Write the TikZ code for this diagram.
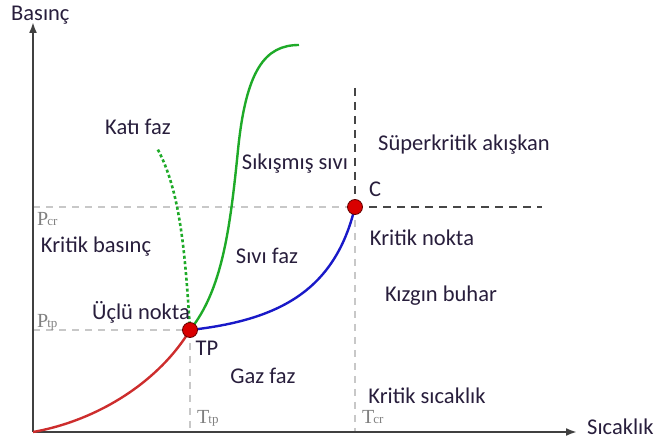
\documentclass[tikz,border=0pt]{standalone}
\usepackage{fontspec}
\setmainfont{Carlito}
\newfontfamily\serifsub{Liberation Serif}
\newcommand\mysubfont{\fontsize{13}{14}\selectfont}
\usetikzlibrary{arrows.meta}
\definecolor{txt}{RGB}{40,30,60}
\definecolor{gcurve}{RGB}{30,170,40}
\definecolor{bcurve}{RGB}{25,25,200}
\definecolor{rcurve}{RGB}{205,45,45}
\definecolor{guide}{RGB}{200,200,200}
\definecolor{darkdash}{RGB}{70,70,70}
\begin{document}
\begin{tikzpicture}[x=1pt,y=-1pt,
  lbl/.style={font=\fontsize{22.5}{24}\selectfont,text=txt,inner sep=0pt},
  sub/.style={font=\serifsub\fontsize{20}{22}\selectfont,text=gray,inner sep=0pt},
  guideline/.style={guide,line width=1.2pt,dash pattern=on 7pt off 6pt},
  darkline/.style={darkdash,line width=1.8pt,dash pattern=on 8pt off 6pt},
  pt/.style={circle,fill=red!85!black,draw=red!40!black,line width=0.8pt,minimum size=15pt,inner sep=0pt},
  axis/.style={line width=2pt,black!75,-{Latex[length=11pt,width=8pt]}}]
\useasboundingbox (0,0) rectangle (665,446);
\coordinate (O) at (33,432);
\coordinate (ytop) at (33,22);
\coordinate (xend) at (577,432);
\coordinate (TPc) at (190,330);
\coordinate (Cc) at (355,207);
\coordinate (Pcr) at (33,207);
\coordinate (Ptp) at (33,330);
\coordinate (Ttp) at (190,432);
\coordinate (Tcr) at (355,432);
\coordinate (Ctop) at (355,88);
\coordinate (Cright) at (542,207);
\coordinate (Gend) at (299,45);
\coordinate (Dend) at (157,148);
% guides
\draw[guideline] (Pcr) -- (Cc);
\draw[guideline] (Ptp) -- (TPc);
\draw[guideline] (TPc) -- (Ttp);
\draw[guideline] (Cc) -- (Tcr);
\draw[darkline] (Ctop) -- (Cc);
\draw[darkline] (Cc) -- (Cright);
% axes
\draw[axis] (O) -- (ytop);
\draw[axis] (O) -- (xend);
% curves
\draw[rcurve,line width=2.4pt] (O) .. controls (100,420) and (160,380) .. (TPc);
\draw[bcurve,line width=2.4pt] (TPc) .. controls (280,320) and (335,290) .. (Cc);
\draw[gcurve,line width=2.4pt] (TPc) .. controls (222,290) and (230,230) .. (238,150)
  .. controls (246,70) and (265,45) .. (Gend);
\draw[gcurve,line width=2.6pt,dash pattern=on 3pt off 2.5pt] (TPc) .. controls (185,250) and (180,190) .. (Dend);
\node[pt] (TP) at (TPc) {};
\node[pt] (C) at (Cc) {};
% labels
\node[lbl,anchor=west] (bas) at (11,15) {Basınç};
\node[lbl,anchor=west] (sic) at (587,427) {Sıcaklık};
\node[lbl] (kati) at (138,127) {Katı faz};
\node[lbl] (sik) at (295,164) {Sıkışmış sıvı};
\node[lbl] (sup) at (464,145) {Süperkritik akışkan};
\node[lbl] (Cl) at (375,189) {C};
\node[sub,anchor=west] (pcr) at (37,219) {P\kern-1pt{\mysubfont cr}};
\node[lbl] (kb) at (96,247) {Kritik basınç};
\node[lbl] (sivi) at (267,256) {Sıvı faz};
\node[lbl] (kn) at (422,238) {Kritik nokta};
\node[lbl] (kz) at (441,296) {Kızgın buhar};
\node[lbl] (ucl) at (141,312) {Üçlü nokta};
\node[sub,anchor=west] (ptp) at (37,322) {P\kern-1pt{\mysubfont tp}};
\node[lbl] (tpl) at (207,348) {TP};
\node[lbl] (gaz) at (263,376) {Gaz faz};
\node[lbl] (ks) at (427,396) {Kritik sıcaklık};
\node[sub,anchor=west] (ttp) at (197,418) {T\kern-1pt{\mysubfont tp}};
\node[sub,anchor=west] (tcr) at (362,417) {T\kern-1pt{\mysubfont cr}};
\end{tikzpicture}
\end{document}
